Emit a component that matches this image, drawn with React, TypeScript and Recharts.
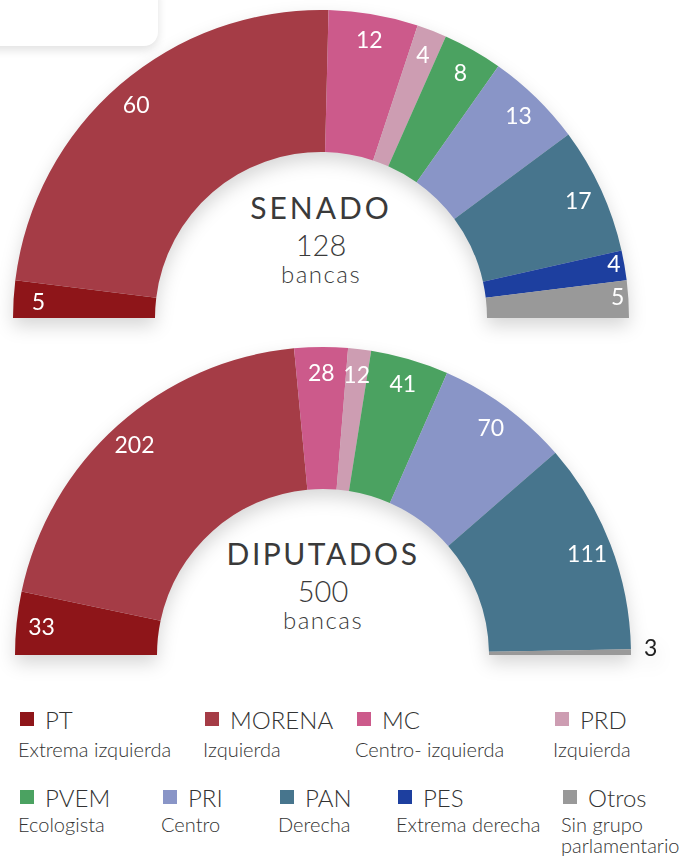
import { PieChart, Pie, Cell } from 'recharts'

const parties = ['PT', 'MORENA', 'MC', 'PRD', 'PVEM', 'PRI', 'PAN', 'PES', 'Otros']
const leanings = [
  'Extrema izquierda',
  'Izquierda',
  'Centro- izquierda',
  'Izquierda',
  'Ecologista',
  'Centro',
  'Derecha',
  'Extrema derecha',
  'Sin grupo\nparlamentario'
]
const senado = [5, 60, 12, 4, 8, 13, 17, 4, 5]
const diputados = [33, 202, 28, 12, 41, 70, 111, 0, 3]
const colors = ['#8e1519', '#a53c46', '#cc5a8b', '#cd9db2', '#4ba261', '#8995c7', '#47758d', '#1d3f9f', '#999999']

const FONT = '"Source Sans Pro", Lato, "Noto Sans", sans-serif'
const RADIAN = Math.PI / 180

const toRows = (values) => parties.map((name, i) => ({ name, value: values[i] }))

const renderLabel = ({ cx, cy, midAngle, outerRadius, percent, value }) => {
  if (!value) return null
  const cos = Math.cos(-midAngle * RADIAN)
  const sin = Math.sin(-midAngle * RADIAN)
  if (percent < 0.01) {
    const r = outerRadius + 13
    return (
      <text x={cx + r * cos} y={cy + r * sin - 5} fill="#222" fontSize={23} fontFamily={FONT} textAnchor="start" dominantBaseline="central">
        {value}
      </text>
    )
  }
  if (midAngle < 12) {
    const r = outerRadius - 4
    return (
      <text x={cx + r * cos} y={cy + r * sin - 3} fill="white" fontSize={23} fontFamily={FONT} textAnchor="end" dominantBaseline="central">
        {value}
      </text>
    )
  }
  const r = outerRadius - 25
  return (
    <text x={cx + r * cos} y={cy + r * sin} fill="white" fontSize={23} fontFamily={FONT} textAnchor="middle" dominantBaseline="central">
      {value}
    </text>
  )
}

const Chamber = ({ top, height, cx, cy, rows, title, total, titleY, spacing }) => (
  <div style={{ position: 'absolute', left: 0, top, width: 683, height }}>
    <div style={{ filter: 'drop-shadow(0 8px 9px rgba(0,0,0,0.16))' }}>
      <PieChart width={683} height={height} margin={{ top: 0, right: 0, bottom: 0, left: 0 }}>
        <Pie
          data={rows}
          dataKey="value"
          cx={cx}
          cy={cy}
          startAngle={180}
          endAngle={0}
          innerRadius={166}
          outerRadius={308}
          stroke="none"
          labelLine={false}
          label={renderLabel}
          isAnimationActive={false}
        >
          {rows.map((entry, index) => (
            <Cell key={`cell-${index}`} fill={colors[index]} />
          ))}
        </Pie>
      </PieChart>
    </div>
    <div style={{ position: 'absolute', left: cx - 150, width: 300, top: titleY, textAlign: 'center', fontFamily: FONT, color: '#3a3a3a' }}>
      <div style={{ fontSize: 30, letterSpacing: spacing, lineHeight: '36px' }}>{title}</div>
      <div style={{ fontSize: 29, fontWeight: 300, lineHeight: '32px', marginTop: 4 }}>{total}</div>
      <div style={{ fontSize: 24, fontWeight: 300, letterSpacing: 1.5, lineHeight: '26px' }}>bancas</div>
    </div>
  </div>
)

const legendX = [20, 205, 357, 555, 20, 163, 280, 398, 563]

const App = () => (
  <div style={{ position: 'absolute', left: 0, top: 0, width: 683, height: 859, background: '#fff', overflow: 'hidden', fontFamily: FONT }}>
    <Chamber top={0} height={330} cx={321} cy={318} rows={toRows(senado)} title="SENADO" total={128} titleY={189} spacing={3} />
    <Chamber top={337} height={330} cx={323} cy={318} rows={toRows(diputados)} title="DIPUTADOS" total={500} titleY={198} spacing={2.5} />
    <div
      style={{
        position: 'absolute',
        left: -20,
        top: -20,
        width: 178,
        height: 66,
        background: '#fff',
        borderRadius: 14,
        boxShadow: '0 4px 10px rgba(0,0,0,0.12)'
      }}
    />
    {parties.map((name, i) => (
      <div key={name} style={{ position: 'absolute', left: legendX[i] - 2, top: i < 4 ? 704 : 782, color: '#333' }}>
        <div style={{ display: 'flex', alignItems: 'center', height: 30 }}>
          <span style={{ display: 'inline-block', width: 14, height: 14, background: colors[i], marginLeft: 2, marginRight: 11 }} />
          <span style={{ fontSize: 24, fontWeight: 300 }}>{name}</span>
        </div>
        <div style={{ fontSize: 20, fontWeight: 300, lineHeight: '21px', whiteSpace: 'pre', marginTop: i < 4 ? 5 : 2 }}>{leanings[i]}</div>
      </div>
    ))}
  </div>
)

export default App
